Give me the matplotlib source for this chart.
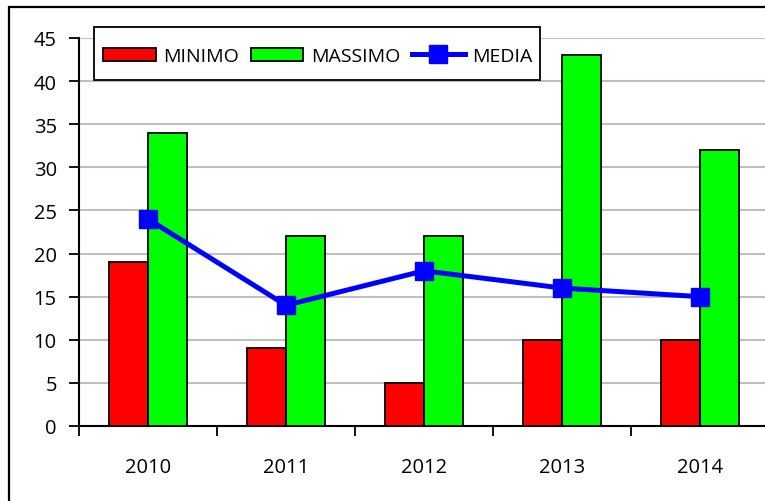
import matplotlib
matplotlib.use("Agg")
import matplotlib.pyplot as plt
from matplotlib.patches import Rectangle
import numpy as np

plt.rcParams['font.family'] = ['Open Sans', 'DejaVu Sans']

# yearly values
anni = ['2010', '2011', '2012', '2013', '2014']
minimo = [19, 9, 5, 10, 10]
massimo = [34, 22, 22, 43, 32]
media = [24, 14, 18, 16, 15]

W, H = 765, 502
fig = plt.figure(figsize=(W / 100, H / 100), dpi=100)

# outer chart frame
fig.patches.append(Rectangle((9 / W, -0.1), 1.2, (H - 8) / H + 0.1,
                             transform=fig.transFigure, fill=False,
                             edgecolor='black', linewidth=1.6, zorder=0))

ax = fig.add_axes([79 / W, (H - 427) / H, 690 / W, 388 / H])
x = np.arange(len(anni))
bw = 0.283

b1 = ax.bar(x - bw / 2, minimo, bw, color='#ff0000', edgecolor='black', linewidth=1.3,
            label='MINIMO', zorder=3)
b2 = ax.bar(x + bw / 2, massimo, bw, color='#00ff00', edgecolor='black', linewidth=1.3,
            label='MASSIMO', zorder=3)
ln, = ax.plot(x, media, color='#0000ff', linewidth=3.6, marker='s', markersize=13.5,
              label='MEDIA', zorder=4)

ax.set_xlim(-0.5, len(anni) - 0.5)
ax.set_ylim(0, 45)
ax.set_yticks(range(0, 50, 5))
ax.yaxis.grid(True, color='#c0c0c0', linewidth=1.5, zorder=0)
ax.set_axisbelow(True)

ax.set_xticks(x)
ax.set_xticklabels(anni)
ax.set_xticks(np.arange(-0.5, len(anni), 1.0), minor=True)
ax.tick_params(axis='x', which='major', length=0, pad=22, labelsize=14.5)
ax.tick_params(axis='x', which='minor', length=7, width=1.3, direction='out')
ax.tick_params(axis='y', length=7, width=1.3, direction='out', pad=9, labelsize=14.5)

for s in ['top', 'right']:
    ax.spines[s].set_visible(False)
for s in ['left', 'bottom']:
    ax.spines[s].set_linewidth(1.5)

# legend box drawn separately so its padding can be set per side
box = Rectangle((94 / W, (H - 81) / H), 446 / W, 53 / H,
                transform=fig.transFigure, facecolor='white',
                edgecolor='black', linewidth=1.3, zorder=9, clip_on=False)
ax.add_artist(box)
leg = ax.legend([b1, b2, ln], ['MINIMO', 'MASSIMO', 'MEDIA'],
                loc='center left', bbox_to_anchor=(103 / W, (H - 57) / H),
                bbox_transform=fig.transFigure, ncol=3, frameon=False,
                fontsize=14, handlelength=2.7, handleheight=0.68,
                handletextpad=0.4, columnspacing=0.6, borderpad=0,
                borderaxespad=0)
leg.set_zorder(10)

fig.savefig('out.png', dpi=100)
